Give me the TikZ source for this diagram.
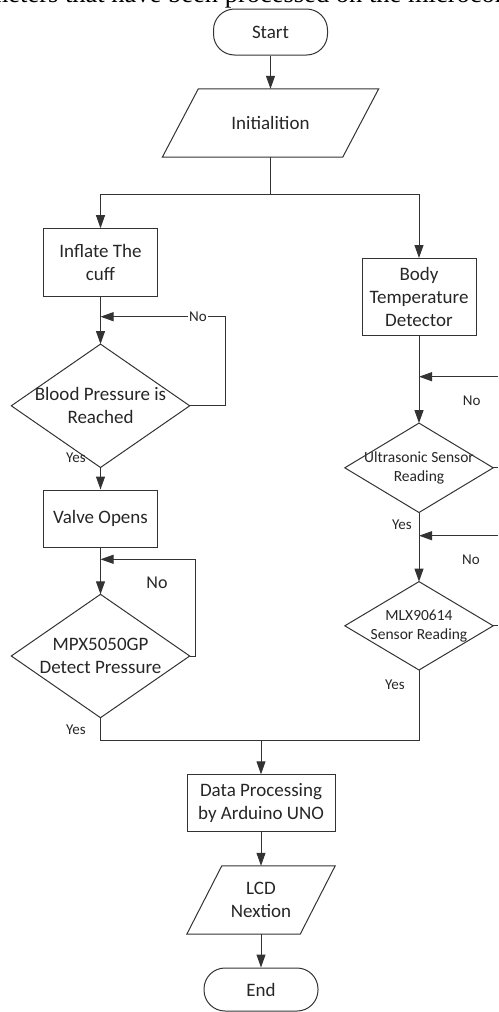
\documentclass[tikz,border=0pt]{standalone}
\usepackage{fontspec}
\setmainfont{Carlito}
\newfontfamily\serifhead{Liberation Serif}
\usetikzlibrary{arrows.meta}
\begin{document}
\begin{tikzpicture}[x=1pt,y=-1pt,
  every node/.style={text=black!85},
  conn/.style={draw=black!80, line width=1pt},
  arr/.style={conn, -{Triangle[length=13pt,width=9pt]}},
  big/.style={font=\fontsize{19}{23}\selectfont},
  mid/.style={font=\fontsize{15.5}{19}\selectfont},
  small/.style={font=\fontsize{15}{18}\selectfont},
  shapebox/.style={draw=black!80, line width=1pt, align=center, inner sep=0pt, big},
  ghost/.style={align=center, inner sep=0pt},
  term/.style={shapebox, rounded corners=21pt},
  lbl/.style={small, inner sep=1pt},
]
\useasboundingbox (0,0) rectangle (498,1012);
\begin{scope}
\clip (0,0) rectangle (498,1012);
\node[anchor=base west, inner sep=0pt, font=\serifhead\fontsize{26.5}{30}\selectfont, text=black] (head) at (-58,2) {parameters that have been processed on the microcontroller};
\end{scope}

% left / top column
\node[term, minimum width=114pt, minimum height=46pt] (start) at (270.5,32) {Start};
\node[ghost, big, minimum width=216pt, minimum height=68pt] (init) at (270.5,123) {Initialition};
\draw[conn] ([xshift=36pt]init.north west) -- (init.north east) -- ([xshift=-36pt]init.south east) -- (init.south west) -- cycle;
\draw[arr] (start.south) -- (init.north);

\node[shapebox, minimum width=114pt, minimum height=68pt] (inflate) at (100.5,262.7) {Inflate The\\cuff};
\node[shapebox, minimum width=114pt, minimum height=77pt] (body) at (419,297) {Body\\Temperature\\Detector};
\coordinate (split) at (270.5,194.3);
\draw[conn] (init.south) -- (split);
\draw[arr] (split) -| (inflate.north);
\draw[arr] (split) -| (body.north);

\node[ghost, big, minimum width=178pt, minimum height=123pt] (bp) at (100.5,405.8) {Blood Pressure is\\Reached};
\draw[conn] (bp.north) -- (bp.east) -- (bp.south) -- (bp.west) -- cycle;
\draw[arr] (inflate.south) -- (bp.north);
\coordinate (m1) at (100.5,316.7);
\coordinate (l1) at (225,316.7);
\draw[arr] (bp.east) -| (l1) -- (m1);
\node[lbl, fill=white] (no1) at (198,316.7) {No};
\node[lbl, anchor=east] (yes1) at (87,457.7) {Yes};

\node[shapebox, minimum width=114pt, minimum height=57pt] (valve) at (100.5,518.5) {Valve Opens};
\draw[arr] (bp.south) -- (valve.north);

\node[ghost, big, minimum width=178pt, minimum height=123pt] (mpx) at (100.5,656) {MPX5050GP\\Detect Pressure};
\draw[conn] (mpx.north) -- (mpx.east) -- (mpx.south) -- (mpx.west) -- cycle;
\draw[arr] (valve.south) -- (mpx.north);
\coordinate (m2) at (100.5,559.3);
\coordinate (l2) at (195.7,559.3);
\draw[arr] (mpx.east) -| (l2) -- (m2);
\node[font=\fontsize{18}{22}\selectfont] (no2) at (157,582.3) {No};
\node[lbl, anchor=east] (yes2) at (87,730) {Yes};

% right column
\node[ghost, mid, minimum width=148pt, minimum height=89pt] (us) at (419,467.8) {Ultrasonic Sensor\\Reading};
\draw[conn] (us.north) -- (us.east) -- (us.south) -- (us.west) -- cycle;
\draw[arr] (body.south) -- (us.north);
\coordinate (m3) at (419,376.7);
\coordinate (e3) at (498,376.7);
\draw[arr] (e3) -- (m3);
\node[lbl] (no3) at (471.7,400.7) {No};
\coordinate (e4) at (498,467.8);
\draw[conn] (us.east) -- (e4);
\node[lbl, anchor=east] (yes3) at (413,525) {Yes};

\node[ghost, mid, minimum width=148pt, minimum height=88pt] (mlx) at (419,625.8) {MLX90614\\Sensor Reading};
\draw[conn] (mlx.north) -- (mlx.east) -- (mlx.south) -- (mlx.west) -- cycle;
\draw[arr] (us.south) -- (mlx.north);
\coordinate (m4) at (419,535.7);
\coordinate (e5) at (498,535.7);
\draw[arr] (e5) -- (m4);
\node[lbl] (no4) at (471,559.3) {No};
\coordinate (e6) at (498,625.8);
\draw[conn] (mlx.east) -- (e6);
\node[lbl, anchor=east] (yes4) at (406,685) {Yes};

% bottom
\node[shapebox, minimum width=148pt, minimum height=57pt] (data) at (261,803.3) {Data Processing\\by Arduino UNO};
\coordinate (join) at (261,740.7);
\draw[conn] (mpx.south) |- (join);
\draw[conn] (mlx.south) |- (join);
\draw[arr] (join) -- (data.north);

\node[ghost, big, minimum width=148pt, minimum height=68pt] (lcd) at (261,900) {LCD\\Nextion};
\draw[conn] ([xshift=35pt]lcd.north west) -- (lcd.north east) -- ([xshift=-35pt]lcd.south east) -- (lcd.south west) -- cycle;
\draw[arr] (data.south) -- (lcd.north);

\node[term, minimum width=114pt, minimum height=43pt] (end) at (261,989.5) {End};
\draw[arr] (lcd.south) -- (end.north);
\end{tikzpicture}
\end{document}
